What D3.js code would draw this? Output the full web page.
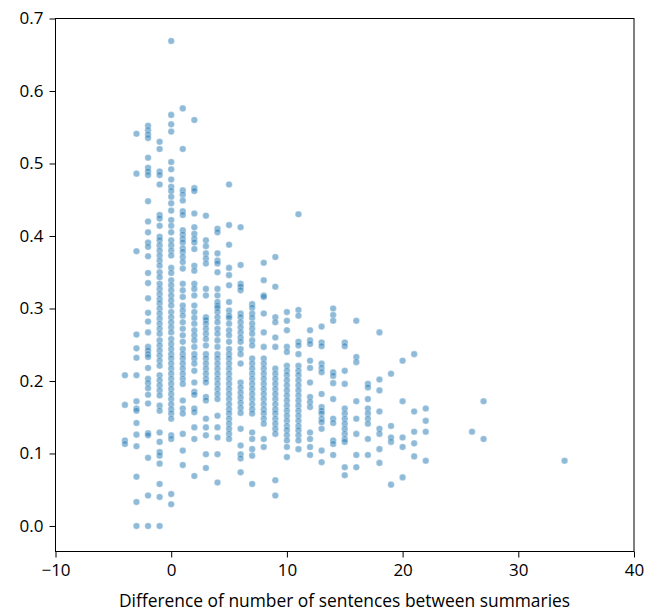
<!DOCTYPE html>
<html>
<head>
<meta charset="utf-8">
<script src="https://cdn.jsdelivr.net/npm/d3@7"></script>
<style>
    body { margin: 0; background: #fff; }
    svg { display: block; font-family: "Open Sans", sans-serif; }
</style>
</head>
<body>
<div id="chart"></div>
<script>
// Scores per sentence-count difference (one array per x value)
var sM4 = [0.208, 0.167, 0.118, 0.113];
var sM3 = [0.541, 0.486, 0.379, 0.264, 0.245, 0.232, 0.208, 0.172, 0.162, 0.159, 0.142, 0.126, 0.110, 0.068, 0.033, 0.000];
var sM2 = [0.552, 0.546, 0.540, 0.535, 0.508, 0.494, 0.489, 0.484, 0.448, 0.420, 0.405, 0.391, 0.385, 0.372, 0.349,
    0.335, 0.314, 0.294, 0.282, 0.267, 0.247, 0.242, 0.237, 0.233, 0.218, 0.203, 0.197, 0.190, 0.181, 0.169,
    0.128, 0.125, 0.094, 0.042, 0.000];
var sM1 = [0.530, 0.520, 0.489, 0.484, 0.471, 0.429, 0.424, 0.414, 0.399, 0.394, 0.387, 0.380, 0.373, 0.366, 0.359,
    0.350, 0.343, 0.334, 0.327, 0.320, 0.313, 0.307, 0.300, 0.293, 0.286, 0.279, 0.272, 0.265, 0.256, 0.249,
    0.242, 0.235, 0.228, 0.221, 0.208, 0.201, 0.194, 0.187, 0.180, 0.166, 0.159, 0.129, 0.116, 0.102, 0.097,
    0.086, 0.058, 0.040, 0.000];
var s0 = [0.669, 0.567, 0.554, 0.544, 0.502, 0.492, 0.478, 0.468, 0.462, 0.454, 0.445, 0.435, 0.422, 0.414, 0.405,
    0.394, 0.387, 0.380, 0.373, 0.356, 0.349, 0.339, 0.332, 0.325, 0.318, 0.311, 0.304, 0.295, 0.288, 0.281,
    0.274, 0.267, 0.258, 0.251, 0.244, 0.237, 0.231, 0.224, 0.217, 0.210, 0.203, 0.196, 0.189, 0.182, 0.175,
    0.168, 0.161, 0.155, 0.148, 0.125, 0.120, 0.044, 0.030];
var s1 = [0.576, 0.520, 0.463, 0.457, 0.449, 0.434, 0.429, 0.408, 0.402, 0.396, 0.391, 0.383, 0.378, 0.371, 0.364,
    0.355, 0.334, 0.325, 0.316, 0.304, 0.297, 0.290, 0.281, 0.272, 0.263, 0.254, 0.244, 0.237, 0.231, 0.224,
    0.217, 0.210, 0.203, 0.196, 0.173, 0.162, 0.155, 0.127, 0.104, 0.084];
var s2 = [0.560, 0.466, 0.462, 0.431, 0.412, 0.403, 0.396, 0.391, 0.382, 0.359, 0.352, 0.334, 0.327, 0.318, 0.304,
    0.295, 0.287, 0.279, 0.270, 0.263, 0.256, 0.247, 0.237, 0.231, 0.224, 0.214, 0.198, 0.185, 0.181, 0.162,
    0.157, 0.136, 0.120, 0.069];
var s3 = [0.428, 0.394, 0.386, 0.376, 0.369, 0.362, 0.327, 0.318, 0.288, 0.284, 0.279, 0.272, 0.265, 0.258, 0.249,
    0.237, 0.231, 0.224, 0.217, 0.210, 0.203, 0.198, 0.178, 0.173, 0.148, 0.136, 0.125, 0.099, 0.080];
var s4 = [0.410, 0.405, 0.376, 0.366, 0.362, 0.350, 0.327, 0.318, 0.309, 0.304, 0.301, 0.295, 0.288, 0.281, 0.272,
    0.265, 0.256, 0.247, 0.237, 0.231, 0.224, 0.217, 0.210, 0.203, 0.196, 0.189, 0.182, 0.175, 0.152, 0.136,
    0.122, 0.099, 0.060];
var s5 = [0.471, 0.415, 0.388, 0.356, 0.346, 0.332, 0.309, 0.297, 0.290, 0.287, 0.279, 0.270, 0.263, 0.254, 0.244,
    0.237, 0.231, 0.224, 0.217, 0.210, 0.203, 0.196, 0.189, 0.182, 0.175, 0.168, 0.161, 0.155, 0.148, 0.141,
    0.134, 0.127, 0.120];
var s6 = [0.412, 0.360, 0.334, 0.330, 0.325, 0.293, 0.288, 0.281, 0.274, 0.267, 0.260, 0.254, 0.244, 0.237, 0.224,
    0.198, 0.191, 0.184, 0.177, 0.170, 0.163, 0.156, 0.134, 0.111, 0.099, 0.093, 0.074];
var s7 = [0.306, 0.301, 0.293, 0.287, 0.279, 0.272, 0.265, 0.256, 0.249, 0.231, 0.224, 0.217, 0.210, 0.203, 0.196,
    0.189, 0.182, 0.175, 0.168, 0.161, 0.155, 0.129, 0.120, 0.106, 0.097, 0.058];
var s8 = [0.363, 0.339, 0.318, 0.316, 0.293, 0.267, 0.247, 0.231, 0.224, 0.217, 0.210, 0.203, 0.196, 0.189, 0.182,
    0.175, 0.168, 0.161, 0.155, 0.148, 0.141, 0.120, 0.109];
var s9 = [0.371, 0.330, 0.288, 0.281, 0.260, 0.247, 0.217, 0.210, 0.203, 0.196, 0.189, 0.182, 0.175, 0.168, 0.161,
    0.155, 0.148, 0.141, 0.134, 0.127, 0.063, 0.042];
var s10 = [0.295, 0.283, 0.270, 0.247, 0.240, 0.221, 0.214, 0.208, 0.201, 0.194, 0.187, 0.180, 0.173, 0.166, 0.159,
    0.152, 0.145, 0.138, 0.132, 0.125, 0.118, 0.109, 0.095];
var s11 = [0.430, 0.298, 0.290, 0.254, 0.249, 0.237, 0.221, 0.214, 0.208, 0.201, 0.194, 0.187, 0.180, 0.173, 0.166,
    0.159, 0.152, 0.145, 0.138, 0.132, 0.125, 0.118, 0.106];
var s12 = [0.270, 0.256, 0.251, 0.228, 0.218, 0.198, 0.178, 0.171, 0.164, 0.129, 0.120, 0.109, 0.098];
var s13 = [0.275, 0.253, 0.248, 0.224, 0.218, 0.212, 0.182, 0.164, 0.159, 0.155, 0.148, 0.143, 0.134, 0.104, 0.088];
var s14 = [0.300, 0.291, 0.283, 0.212, 0.207, 0.197, 0.175, 0.148, 0.142, 0.118, 0.113, 0.098];
var s15 = [0.253, 0.248, 0.214, 0.196, 0.162, 0.155, 0.148, 0.141, 0.134, 0.127, 0.120, 0.116, 0.081, 0.070];
var s16 = [0.283, 0.233, 0.226, 0.172, 0.148, 0.127, 0.098, 0.081];
var s17 = [0.196, 0.191, 0.175, 0.162, 0.155, 0.148, 0.141, 0.120, 0.098];
var s18 = [0.267, 0.202, 0.187, 0.158, 0.134, 0.127, 0.106, 0.087];
var s19 = [0.210, 0.138, 0.122, 0.116, 0.057];
var s20 = [0.228, 0.172, 0.122, 0.109, 0.067];
var s21 = [0.237, 0.158, 0.130, 0.114, 0.096];
var s22 = [0.162, 0.145, 0.130, 0.090];
var s26 = [0.130];
var s27 = [0.172, 0.120];
var s34 = [0.090];

var diffs = [-4, -3, -2, -1, 0, 1, 2, 3, 4, 5, 6, 7, 8, 9, 10, 11, 12, 13, 14, 15, 16, 17, 18, 19, 20, 21, 22, 26, 27, 34];
var scoreColumns = [sM4, sM3, sM2, sM1, s0, s1, s2, s3, s4, s5, s6, s7, s8, s9, s10, s11, s12, s13, s14, s15,
    s16, s17, s18, s19, s20, s21, s22, s26, s27, s34];

var xTicks = [-10, 0, 10, 20, 30, 40];
var yTicks = [0.0, 0.1, 0.2, 0.3, 0.4, 0.5, 0.6, 0.7];
var xLabel = "Difference of number of sentences between summaries";

// Flatten into points
var points = [];
diffs.forEach(function(d, i) {
    scoreColumns[i].forEach(function(v) {
        points.push({x: d, y: v});
    });
});

var svgWidth = 659;
var svgHeight = 611;
var margins = {top: 18.5, bottom: 59.5, left: 55.5, right: 25};
var width = svgWidth - margins.left - margins.right;
var height = svgHeight - margins.top - margins.bottom;

var svg = d3.select("#chart")
    .append("svg")
        .attr("width", svgWidth)
        .attr("height", svgHeight);

var g = svg.append("g")
    .attr("transform", "translate(" + margins.left + "," + margins.top + ")");

var xScale = d3.scaleLinear()
    .domain([-10, 40])
    .range([0, width]);
var yScale = d3.scaleLinear()
    .domain([-0.0352, 0.7])
    .range([height, 0]);

// Points
g.append("g")
    .selectAll("circle")
    .data(points)
    .enter()
    .append("circle")
        .attr("cx", d => xScale(d.x))
        .attr("cy", d => yScale(d.y))
        .attr("r", 3.3)
        .attr("fill", "#1f77b4")
        .attr("fill-opacity", 0.5)
        .attr("stroke", "#ffffff")
        .attr("stroke-opacity", 0.5)
        .attr("stroke-width", 0.6);

// Axes
var fmtX = d => (d < 0 ? "\u2212" + Math.abs(d) : String(d));
var xAxis = g.append("g")
    .attr("transform", "translate(0," + height + ")")
    .call(d3.axisBottom(xScale).tickValues(xTicks).tickFormat(fmtX).tickSize(6).tickPadding(6).tickSizeOuter(0));
var yAxis = g.append("g")
    .call(d3.axisLeft(yScale).tickValues(yTicks).tickFormat(d3.format(".1f")).tickSize(6).tickPadding(6).tickSizeOuter(0));

[xAxis, yAxis].forEach(function(a) {
    a.select(".domain").remove();
    a.selectAll("line").attr("stroke", "#000").attr("stroke-width", 1);
    a.selectAll("text")
        .attr("fill", "#000")
        .style("font-size", "17px")
        .style("font-family", "'Open Sans', sans-serif");
});

// Frame
g.append("rect")
    .attr("x", 0)
    .attr("y", 0)
    .attr("width", width)
    .attr("height", height)
    .attr("fill", "none")
    .attr("stroke", "#000")
    .attr("stroke-width", 1);

// Axis label
svg.append("text")
    .attr("x", 344.5)
    .attr("y", 607)
    .attr("text-anchor", "middle")
    .attr("fill", "#000")
    .style("font-size", "17.4px")
    .text(xLabel);
</script>
</body>
</html>
